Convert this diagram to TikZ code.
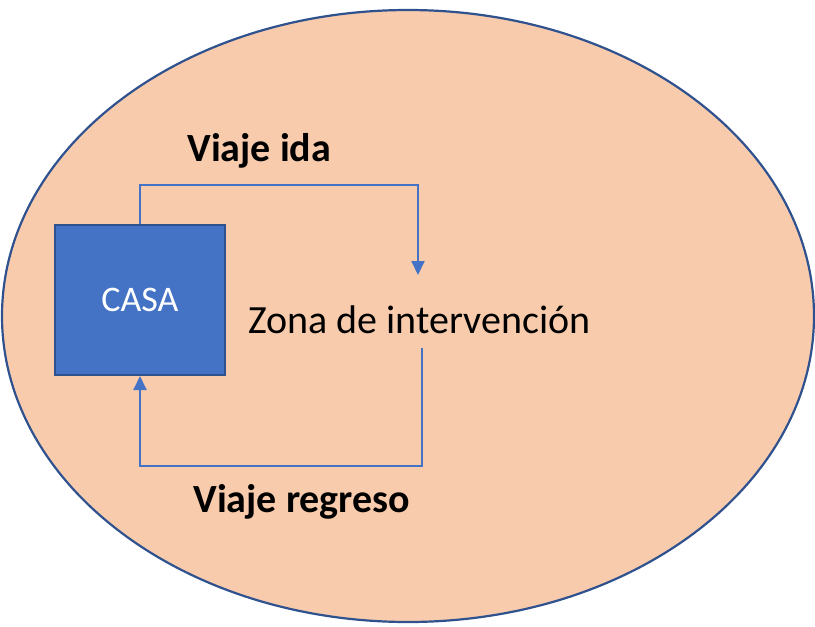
\documentclass[tikz,border=0pt]{standalone}
\usepackage{fontspec}
\setmainfont{Carlito}
\usetikzlibrary{arrows.meta}
\definecolor{peach}{HTML}{F8CBAD}
\definecolor{dkblue}{HTML}{2F528F}
\definecolor{accblue}{HTML}{4472C4}
\tikzset{
  zone/.style={draw=dkblue, line width=1.1pt, fill=peach},
  house/.style={draw=dkblue, line width=1pt, fill=accblue, text=white, minimum width=85pt, minimum height=75pt, inner sep=0pt, font=\fontsize{18}{21}\selectfont},
  trip/.style={draw=accblue, line width=1pt, -{Triangle[width=6.5pt,length=7pt]}},
  boldlabel/.style={anchor=base west, inner sep=0pt, font=\fontsize{20}{24}\selectfont\bfseries},
  plainlabel/.style={anchor=base west, inner sep=0pt, font=\fontsize{20}{24}\selectfont}
}
\begin{document}
\begin{tikzpicture}[x=0.5pt,y=-0.5pt]
\useasboundingbox (0,0) rectangle (815,627);
\draw[zone] (408,316) ellipse [x radius=406, y radius=306];
\node[house] (casa) at (140,300) {CASA};
\node[plainlabel] (zona) at (248,333) {Zona de intervención};
\node[boldlabel] (ida) at (187,161) {Viaje ida};
\node[boldlabel] (regreso) at (193,512) {Viaje regreso};
\coordinate (idaend) at (418,275);
\coordinate (regstart) at (422,348);
\draw[trip] (casa.north) -- (140,185) -| (idaend);
\draw[trip] (regstart) -- (422,466) -| (casa.south);
\end{tikzpicture}
\end{document}
